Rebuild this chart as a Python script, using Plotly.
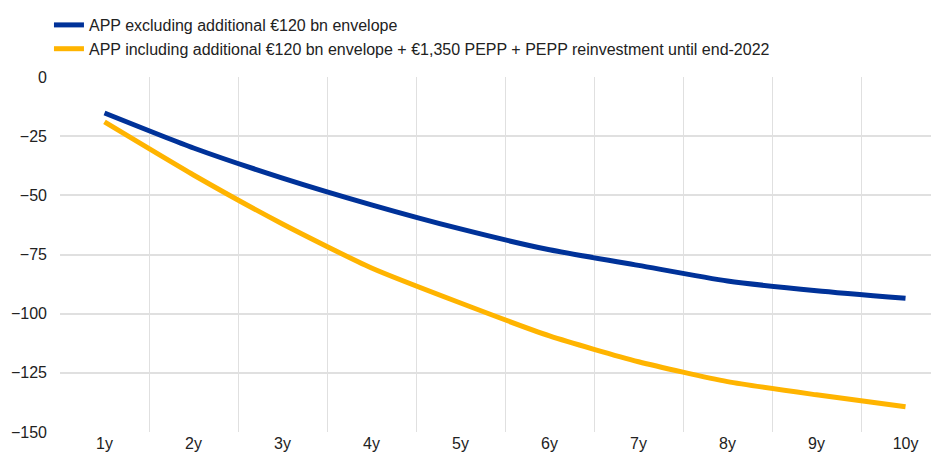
import plotly.graph_objects as go

maturities = ["1y", "2y", "3y", "4y", "5y", "6y", "7y", "8y", "9y", "10y"]
app_excl = [-15.2, -30.0, -42.7, -54.0, -64.2, -73.0, -79.6, -86.2, -90.3, -93.5]
app_incl = [-19.0, -41.4, -62.1, -80.7, -95.5, -109.4, -120.3, -128.7, -134.3, -139.3]

name_excl = "APP excluding additional €120 bn envelope"
name_incl = "APP including additional €120 bn envelope + €1,350 PEPP + PEPP reinvestment until end-2022"

xpos = list(range(len(maturities)))

fig = go.Figure()
fig.add_trace(go.Scatter(x=xpos, y=app_excl, mode="lines", name=name_excl,
                         line=dict(color="#003299", width=5, shape="spline", smoothing=0.6)))
fig.add_trace(go.Scatter(x=xpos, y=app_incl, mode="lines", name=name_incl,
                         line=dict(color="#FFB400", width=5, shape="spline", smoothing=0.6)))

# page body has an 8px margin, so the figure is a bit smaller than the window
fig.update_layout(
    width=931, height=449,
    margin=dict(l=52, r=0, t=69, b=25, autoexpand=False),
    plot_bgcolor="white", paper_bgcolor="white",
    font=dict(family="Liberation Sans, Arial, sans-serif", size=16, color="#222222"),
    showlegend=True,
    legend=dict(xref="container", yref="container", x=0.044, y=1.01,
                xanchor="left", yanchor="top", orientation="v",
                font=dict(size=16), tracegroupgap=0, itemwidth=30,
                bgcolor="rgba(0,0,0,0)"),
)

fig.update_xaxes(
    range=[-0.5, 9.376], tickvals=xpos, ticktext=maturities,
    showgrid=False, zeroline=False, showline=False, ticks="", automargin=False,
    minor=dict(tick0=0.5, dtick=1, showgrid=True, gridcolor="#e0e0e0", gridwidth=1, ticks=""),
    tickfont=dict(size=16),
)
fig.update_yaxes(
    range=[-150, 0], tickvals=[0, -25, -50, -75, -100, -125, -150],
    showgrid=True, gridcolor="#e0e0e0", gridwidth=1.5, automargin=False,
    zeroline=False, showline=False, ticks="", ticklabelstandoff=12,
    tickfont=dict(size=16),
)

fig.write_html("out.html")
